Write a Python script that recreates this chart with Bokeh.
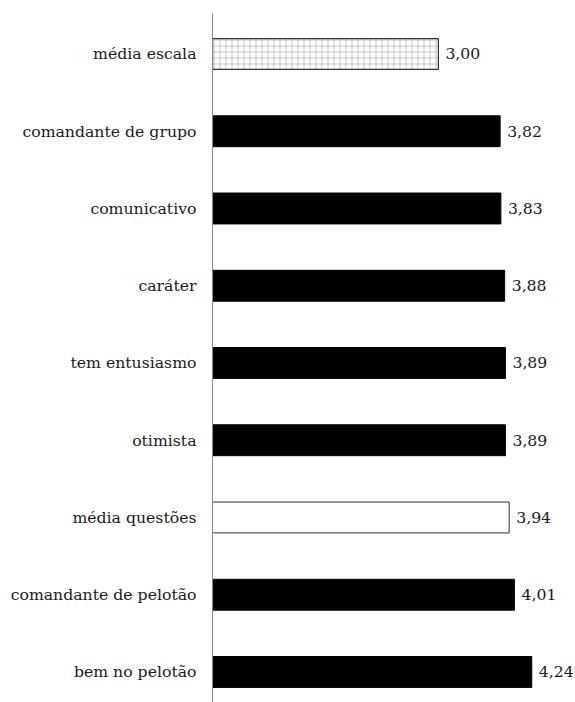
from bokeh.plotting import figure
from bokeh.models import ColumnDataSource, Range1d, FixedTicker
from bokeh.core.properties import value
from bokeh.embed import file_html
from bokeh.resources import INLINE

# Data (top to bottom as shown)
categories = ["média escala", "comandante de grupo", "comunicativo", "caráter",
              "tem entusiasmo", "otimista", "média questões",
              "comandante de pelotão", "bem no pelotão"]
values = [3.00, 3.82, 3.83, 3.88, 3.89, 3.89, 3.94, 4.01, 4.24]
kinds = ["escala", "item", "item", "item", "item", "item", "questoes", "item", "item"]

n = len(categories)
ypos = [n - 1 - i for i in range(n)]
labels = [f"{v:.2f}".replace(".", ",") for v in values]

FONT = "DejaVu Serif"

p = figure(width=575, height=702, output_backend="svg", toolbar_location=None,
           x_range=Range1d(0, 4.821), y_range=Range1d(-0.395, 8.524),
           x_axis_location=None, min_border_left=212, min_border_right=0,
           min_border_top=13, min_border_bottom=0)
p.outline_line_color = None
p.grid.visible = False
p.background_fill_color = "white"
p.border_fill_color = "white"

def sub(kind):
    idx = [i for i, k in enumerate(kinds) if k == kind]
    return ColumnDataSource(dict(y=[ypos[i] for i in idx],
                                 v=[values[i] for i in idx]))

# black bars
p.hbar(y="y", right="v", left=0, height=0.40, source=sub("item"),
       fill_color="black", line_color="black", line_width=1)
# média questões: white with dark outline
p.hbar(y="y", right="v", left=0, height=0.40, source=sub("questoes"),
       fill_color="white", line_color="#333333", line_width=1)
# média escala: light brick-like pattern
p.hbar(y="y", right="v", left=0, height=0.40, source=sub("escala"),
       fill_color="white", line_color="#333333", line_width=1.2,
       hatch_pattern="cross", hatch_color="#b8b8b8", hatch_scale=6,
       hatch_weight=0.8)

src_lbl = ColumnDataSource(dict(y=ypos, v=values, t=labels))
p.text(x="v", y="y", text="t", source=src_lbl, x_offset=7,
       text_baseline="middle", text_align="left",
       text_font=value(FONT), text_font_size="15.7px", text_color="#1a1a1a")

ax = p.yaxis[0]
ax.ticker = FixedTicker(ticks=ypos)
ax.major_label_overrides = {ypos[i]: categories[i] for i in range(n)}
ax.major_label_text_font = FONT
ax.major_label_text_font_size = "15.7px"
ax.major_label_text_color = "#1a1a1a"
ax.major_tick_line_color = None
ax.minor_tick_line_color = None
ax.major_tick_out = 0
ax.major_tick_in = 0
ax.major_label_standoff = 16
ax.axis_line_color = "#8a8a8a"
ax.axis_line_width = 1

open("out.html", "w").write(file_html(p, INLINE))
